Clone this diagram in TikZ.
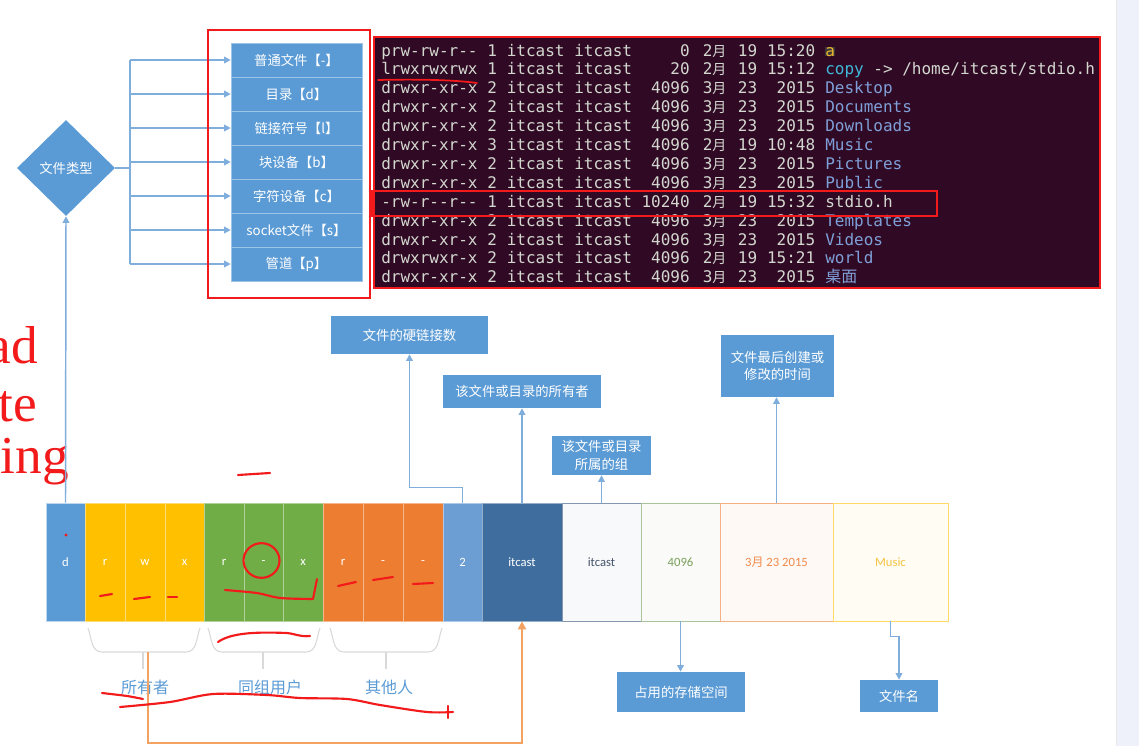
\documentclass[tikz,border=0pt]{standalone}
\usepackage{fontspec}
\setmainfont{Noto Sans CJK SC}
\newfontfamily\cjk{Noto Sans CJK SC}
\setmonofont{DejaVu Sans Mono}
\newfontfamily\calfont{Carlito}
\newfontfamily\serifr{Liberation Serif}
\usetikzlibrary{shapes.geometric,arrows.meta}
\definecolor{mblue}{HTML}{5B9BD5}
\definecolor{lblue}{HTML}{7FAEDD}
\definecolor{dblue}{HTML}{3F6E9E}
\definecolor{cblue}{HTML}{6C9DD3}
\definecolor{myel}{HTML}{FFC000}
\definecolor{mgreen}{HTML}{70AD47}
\definecolor{morange}{HTML}{ED7D31}
\definecolor{termbg}{HTML}{300A24}
\definecolor{termfg}{HTML}{D3D7CF}
\definecolor{dirblue}{HTML}{7F9FD8}
\definecolor{lnkcyan}{HTML}{3FB8D9}
\definecolor{tyel}{HTML}{E8B830}
\definecolor{ahl}{HTML}{3E3539}
\definecolor{mred}{HTML}{F21A1A}
\definecolor{bracec}{HTML}{D9D9D9}
\definecolor{stripc}{HTML}{EEF1FA}
\definecolor{oline}{HTML}{F4A262}
\definecolor{sepc}{HTML}{9DC3E6}
\definecolor{grpb}{HTML}{8497B0}
\definecolor{grpt}{HTML}{44546A}
\definecolor{sizb}{HTML}{A9C49A}
\definecolor{sizt}{HTML}{7BA05B}
\definecolor{timb}{HTML}{F4B183}
\definecolor{timt}{HTML}{F08A4B}
\definecolor{namb}{HTML}{FFD966}
\definecolor{namt}{HTML}{F5C342}
\tikzset{
  bbox/.style={fill=mblue, text=white, font=\cjk\fontsize{10}{13}\selectfont, inner sep=0pt, align=center},
  conn/.style={draw=lblue, line width=1.1pt},
  arr/.style={-{Triangle[length=5pt,width=5pt]}},
  tt/.style={text=termfg, font=\ttfamily\fontsize{12}{14}\selectfont, inner sep=0pt},
  cell/.style={inner sep=0pt, font=\calfont\fontsize{9.5}{11}\selectfont, text=white, line width=0.5pt},
  scrib/.style={draw=mred, line width=1.6pt, line cap=round, line join=round},
  lab/.style={text=mblue, font=\cjk\fontsize{12}{14}\selectfont, inner sep=0pt},
  brc/.style={draw=bracec, line width=0.8pt},
  redtxt/.style={text=mred, font=\serifr\fontsize{40}{40}\selectfont, inner sep=0pt},
}
% box from pixel corners: name, x1, y1, x2, y2, style, text
\newcommand\bx[7]{%
  \pgfmathsetmacro\cx{(#2+#4)/2}\pgfmathsetmacro\cy{(#3+#5)/2}%
  \pgfmathsetmacro\ww{(#4-#2)*0.75}\pgfmathsetmacro\hh{(#5-#3)*0.75}%
  \node[#6, minimum width=\ww pt, minimum height=\hh pt] (#1) at (\cx,\cy) {#7};}
\newcommand\trow[9]{%
  \pgfmathsetmacro\yb{56+(#1-1)*18.9}%
  \node[tt,anchor=base west] (t#1p) at (381,\yb) {#2};
  \node[tt,anchor=base west] (t#1n) at (487,\yb) {#3};
  \node[tt,anchor=base west] (t#1o) at (506.5,\yb) {itcast};
  \node[tt,anchor=base west] (t#1g) at (574,\yb) {itcast};
  \node[tt,anchor=base east] (t#1s) at (690,\yb) {#4};
  \node[tt,anchor=base west] (t#1m) at (702.5,\yb) {#5{\cjk\fontsize{10.5}{13}\selectfont 月}};
  \node[tt,anchor=base east] (t#1d) at (757.5,\yb) {#6};
  \node[tt,anchor=base east] (t#1t) at (815.5,\yb) {#7};
  \node[tt,anchor=base west,#8] (t#1f) at (825,\yb) {#9};
}
\begin{document}
\begin{tikzpicture}[x=0.75pt,y=-0.75pt]
\fill[white] (0,0) rectangle (1139,746);
\useasboundingbox (0,0) rectangle (1139,746);
% right strip
\fill[stripc] (1117,0) rectangle (1139,746);
\draw[draw=stripc!80!gray!60, line width=0.4pt] (1116,0) -- (1116,746);

% red handwriting on the left
\node[redtxt, anchor=base east] (ra) at (38,363) {ad};
\node[redtxt, anchor=base east] (rb) at (37,421) {te};
\node[redtxt, anchor=base east] (rc) at (69,473) {ing};

% diamond and type list
\node[diamond, fill=mblue, text=white, font=\cjk\fontsize{10}{13}\selectfont, minimum width=73.5pt, minimum height=72pt, inner sep=0pt] (dia) at (66,168) {文件类型};
\bx{b1}{231}{43}{362}{77}{bbox, draw=sepc, line width=0.4pt}{普通文件【-】}
\bx{b2}{231}{77}{362}{111}{bbox, draw=sepc, line width=0.4pt}{目录【d】}
\bx{b3}{231}{111}{362}{145}{bbox, draw=sepc, line width=0.4pt}{链接符号【l】}
\bx{b4}{231}{145}{362}{179}{bbox, draw=sepc, line width=0.4pt}{块设备【b】}
\bx{b5}{231}{179}{362}{213}{bbox, draw=sepc, line width=0.4pt}{字符设备【c】}
\bx{b6}{231}{213}{362}{247}{bbox, draw=sepc, line width=0.4pt}{socket文件【s】}
\bx{b7}{231}{247}{362}{281}{bbox, draw=sepc, line width=0.4pt}{管道【p】}
\coordinate (trunk) at (130,168);
\draw[conn] (dia.east) -- (trunk);
\draw[conn] (trunk |- b1.west) -- (trunk |- b7.west);
\foreach \b in {b1,b2,b3,b4,b5,b6,b7}{
  \draw[conn,arr] (trunk |- \b.west) -- (\b.west);
}
\draw[draw=mred, line width=2.2pt] (208,30) rectangle (370,298);

% terminal
\fill[termbg] (374,37) rectangle (1100,288);
\trow{1}{prw-rw-r--}{1}{0}{2}{19}{15:20}{text=tyel,fill=ahl}{a}
\trow{2}{lrwxrwxrwx}{1}{20}{2}{19}{15:12}{text=termfg}{\textcolor{lnkcyan}{copy} -> /home/itcast/stdio.h}
\trow{3}{drwxr-xr-x}{2}{4096}{3}{23}{2015}{text=dirblue}{Desktop}
\trow{4}{drwxr-xr-x}{2}{4096}{3}{23}{2015}{text=dirblue}{Documents}
\trow{5}{drwxr-xr-x}{2}{4096}{3}{23}{2015}{text=dirblue}{Downloads}
\trow{6}{drwxr-xr-x}{3}{4096}{2}{19}{10:48}{text=dirblue}{Music}
\trow{7}{drwxr-xr-x}{2}{4096}{3}{23}{2015}{text=dirblue}{Pictures}
\trow{8}{drwxr-xr-x}{2}{4096}{3}{23}{2015}{text=dirblue}{Public}
\trow{9}{-rw-r--r--}{1}{10240}{2}{19}{15:32}{text=termfg}{stdio.h}
\trow{10}{drwxr-xr-x}{2}{4096}{3}{23}{2015}{text=dirblue}{Templates}
\trow{11}{drwxr-xr-x}{2}{4096}{3}{23}{2015}{text=dirblue}{Videos}
\trow{12}{drwxrwxr-x}{2}{4096}{2}{19}{15:21}{text=dirblue}{world}
\trow{13}{drwxr-xr-x}{2}{4096}{3}{23}{2015}{text=dirblue}{{\cjk 桌面}}
\draw[draw=mred, line width=2.2pt] (374,37) rectangle (1100,288);
\draw[draw=mred, line width=2.2pt] (372,191) rectangle (937,216);
\draw[scrib, line width=1.3pt] (378,80) .. controls (420,79) and (455,80) .. (477,83);

% bottom bar
\bx{cd}{46}{503}{85}{621}{cell, fill=mblue, draw=white!60!mblue}{d}
\bx{cy1}{85}{503}{125}{621}{cell, fill=myel, draw=white!45!myel}{r}
\bx{cy2}{125}{503}{165}{621}{cell, fill=myel, draw=white!45!myel}{w}
\bx{cy3}{165}{503}{204}{621}{cell, fill=myel, draw=white!45!myel}{x}
\bx{cg1}{204}{503}{244}{621}{cell, fill=mgreen, draw=white!45!mgreen}{r}
\bx{cg2}{244}{503}{283}{621}{cell, fill=mgreen, draw=white!45!mgreen}{-}
\bx{cg3}{283}{503}{323}{621}{cell, fill=mgreen, draw=white!45!mgreen}{x}
\bx{co1}{323}{503}{363}{621}{cell, fill=morange, draw=white!45!morange}{r}
\bx{co2}{363}{503}{403}{621}{cell, fill=morange, draw=white!45!morange}{-}
\bx{co3}{403}{503}{443}{621}{cell, fill=morange, draw=white!45!morange}{-}
\bx{c2}{443}{503}{482}{621}{cell, fill=cblue, draw=white!45!cblue}{2}
\bx{cown}{482}{503}{562}{621}{cell, fill=dblue, draw=white!45!dblue}{itcast}
\bx{cgrp}{562}{503}{641}{621}{cell, fill=grpb!6, draw=grpb, text=grpt}{itcast}
\bx{csize}{641}{503}{720}{621}{cell, fill=sizb!6, draw=sizb, text=sizt}{4096}
\bx{ctime}{720}{503}{833}{621}{cell, fill=timb!8, draw=timb, text=timt}{3{\cjk\fontsize{9}{11}\selectfont 月} 23 2015}
\bx{cname}{833}{503}{948}{621}{cell, fill=namb!8, draw=namb, text=namt}{Music}

% top labels
\bx{hl}{331}{316}{488}{354}{bbox}{文件的硬链接数}
\bx{hown}{443}{375}{601}{408}{bbox}{该文件或目录的所有者}
\bx{hgrp}{552}{436}{651}{475}{bbox}{该文件或目录\\所属的组}
\bx{htime}{721}{335}{834}{397}{bbox}{文件最后创建或\\修改的时间}
\bx{hsize}{617}{672}{745}{712}{bbox}{占用的存储空间}
\bx{hname}{860}{680}{938}{712}{bbox}{文件名}

\draw[conn,arr] (cd.north) -- (dia.south);
\draw[conn,arr] (c2.north) -- ++(0,-15) -| (hl.south);
\draw[conn,arr] (cown.north) -- (hown.south);
\draw[conn,arr] (cgrp.north) -- (hgrp.south);
\draw[conn,arr] (ctime.north) -- (ctime.north |- htime.south);
\draw[conn,arr] (csize.south) -- (csize.south |- hsize.north);
\draw[conn,arr] (cname.south) -- ++(0,15) -| (hname.north);

% braces and group labels
\draw[brc] (88,628) to[out=-70,in=180] (102,652) -- (186,652) to[out=0,in=-110] (200,628);
\draw[brc] (143,652) -- (143,669);
\draw[brc] (208,628) to[out=-70,in=180] (222,652) -- (306,652) to[out=0,in=-110] (320,628);
\draw[brc] (263,652) -- (263,669);
\draw[brc] (330,628) to[out=-70,in=180] (344,652) -- (428,652) to[out=0,in=-110] (442,628);
\draw[brc] (386,652) -- (386,669);
\node[lab] (lown) at (145,687) {所有者};
\node[lab] (lgrp) at (270,687) {同组用户};
\node[lab] (loth) at (389,687) {其他人};
\coordinate (obeg) at (148,652);
\draw[draw=oline, line width=1.5pt, -{Triangle[length=6pt,width=6pt]}] (obeg) -- (148,743) -| (cown.south);

% red scribbles
\fill[mred] (66,535) circle (1.3pt);
\draw[scrib] (238,475) -- (270,473);
\draw[scrib] (100,596) -- (112,594);
\draw[scrib] (134,599) -- (150,597);
\draw[scrib] (168,597) -- (177,597);
\draw[scrib] (261.5,560.5) ellipse [x radius=13.5pt, y radius=13pt];
\draw[scrib] plot[smooth] coordinates {(225,590) (257,593) (280,598) (313,599)} -- (317,579);
\draw[scrib] (338,586) -- (356,582);
\draw[scrib] (373,580) -- (393,577);
\draw[scrib] (413,584) -- (433,583);
\draw[scrib] (218,642) .. controls (232,632) and (260,632) .. (287,633) .. controls (296,634) and (300,637) .. (310,636);
\draw[scrib] plot[smooth] coordinates {(102,693) (127,696) (143,699)};
\draw[scrib] plot[smooth] coordinates {(120,707) (170,702) (213,694) (267,695) (300,698) (347,699) (380,705) (427,712) (453,712)};
\draw[scrib] (448,706) -- (448,718);
\end{tikzpicture}
\end{document}
